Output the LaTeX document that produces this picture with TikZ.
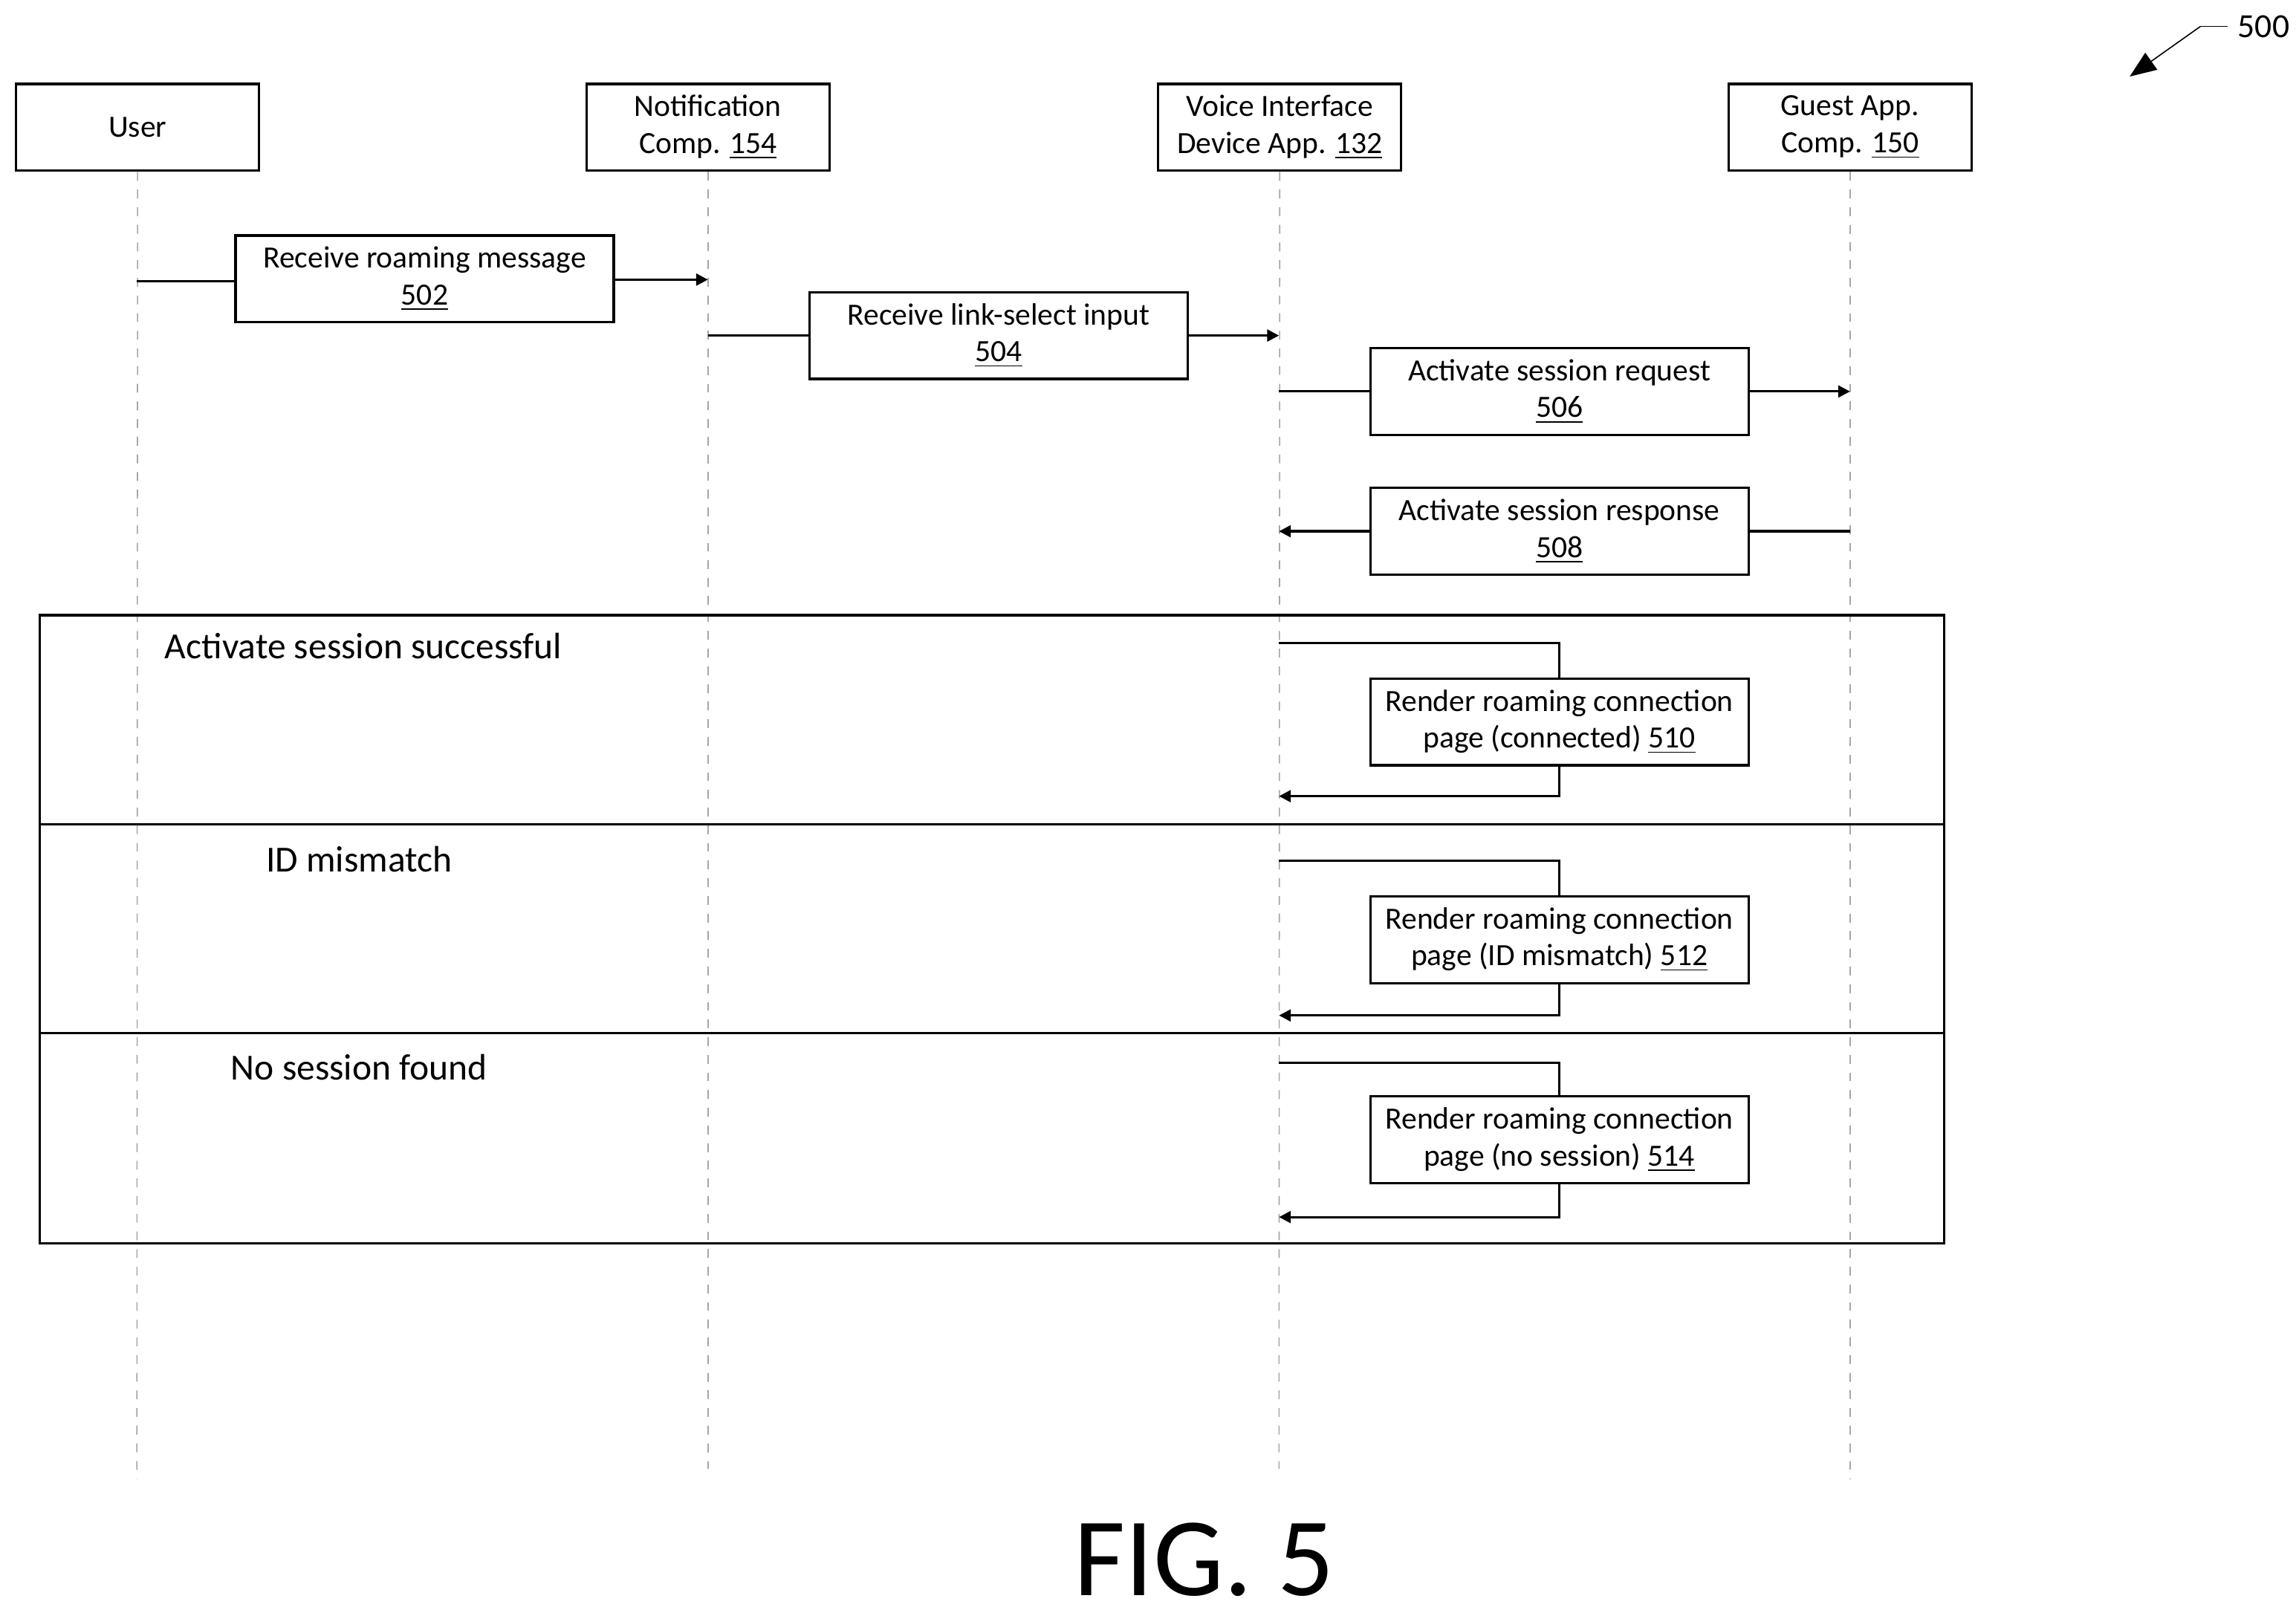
\documentclass[tikz,border=0pt]{standalone}
\usepackage{fontspec}
\setmainfont{Carlito}
\usetikzlibrary{arrows.meta}
\begin{document}
\begin{tikzpicture}[x=0.5pt,y=-0.5pt,
 box/.style={draw,thick,minimum width=128.5pt,minimum height=29.5pt,align=center,font=\fontsize{10.5}{12.5}\selectfont,inner sep=1pt},
 life/.style={dashed,gray!70,thin},
 msg/.style={thick,-{Triangle[length=4pt,width=4pt]}},
 ln/.style={thick},
 lab/.style={font=\fontsize{12.5}{15}\selectfont}]
\useasboundingbox (0,0) rectangle (1560,1094);
% headers
\node[box,minimum width=82.5pt] (u) at (93.5,86.5) {User};
\node[box,minimum width=82.5pt] (n) at (481,86.5) {Notification\\Comp. \underline{154}};
\node[box,minimum width=82.5pt] (v) at (869.5,86.5) {Voice Interface\\Device App. \underline{132}};
\node[box,minimum width=82.5pt] (g) at (1257,86.5) {Guest App.\\Comp. \underline{150}};
\coordinate (ue) at (93,1005); \coordinate (ne) at (481,998);
\coordinate (ve) at (869,998); \coordinate (ge) at (1257,1005);
\draw[life] (u.south) -- (ue); \draw[life] (n.south) -- (ne);
\draw[life] (v.south) -- (ve); \draw[life] (g.south) -- (ge);
% frames
\draw[thick] (27,418) rectangle (1321,845);
\draw[thick] (27,560) -- (1321,560);
\draw[thick] (27,702) -- (1321,702);
\node[lab,anchor=west] (l1) at (105,439) {Activate session successful};
\node[lab] (l2) at (244,584) {ID mismatch};
\node[lab] (l3) at (244,725) {No session found};
% messages
\node[box] (m502) at (288.5,189.5) {Receive roaming message\\\underline{502}};
\coordinate (a1) at (93,191); \coordinate (a2) at (481,190);
\draw[ln] (a1) -- (m502.west|-a1); \draw[msg] (m502.east|-a2) -- (a2);
\node[box] (m504) at (678.5,228) {Receive link-select input\\\underline{504}};
\coordinate (b1) at (481,228); \coordinate (b2) at (869,228);
\draw[ln] (b1) -- (m504.west|-b1); \draw[msg] (m504.east|-b2) -- (b2);
\node[box] (m506) at (1059.5,266) {Activate session request\\\underline{506}};
\coordinate (c1) at (869,266); \coordinate (c2) at (1257,266);
\draw[ln] (c1) -- (m506.west|-c1); \draw[msg] (m506.east|-c2) -- (c2);
\node[box] (m508) at (1059.5,361) {Activate session response\\\underline{508}};
\coordinate (d1) at (1257,361); \coordinate (d2) at (869,361);
\draw[ln] (d1) -- (m508.east|-d1); \draw[msg] (m508.west|-d2) -- (d2);
% self messages
\node[box] (m510) at (1059.5,490.5) {Render roaming connection\\page (connected) \underline{510}};
\coordinate (e1) at (869,437); \coordinate (e2) at (869,541);
\draw[ln] (e1) -| (m510.north); \draw[msg] (m510.south) |- (e2);
\node[box] (m512) at (1059.5,638.5) {Render roaming connection\\page (ID mismatch) \underline{512}};
\coordinate (f1) at (869,585); \coordinate (f2) at (869,690);
\draw[ln] (f1) -| (m512.north); \draw[msg] (m512.south) |- (f2);
\node[box] (m514) at (1059.5,774.5) {Render roaming connection\\page (no session) \underline{514}};
\coordinate (h1) at (869,722); \coordinate (h2) at (869,827);
\draw[ln] (h1) -| (m514.north); \draw[msg] (m514.south) |- (h2);
% figure label
\node[font=\fontsize{38}{44}\selectfont,inner sep=0pt] (fig) at (818,1060) {FIG. 5};
\node[font=\fontsize{11.5}{14}\selectfont] (n500) at (1538,18) {500};
\coordinate (p1) at (1495,18); \coordinate (p2) at (1447,52);
\draw[thin] (n500.west) -- (p1);
\draw[thin,-{Triangle[length=9pt,width=7pt]}] (p1) -- (p2);
\end{tikzpicture}
\end{document}
